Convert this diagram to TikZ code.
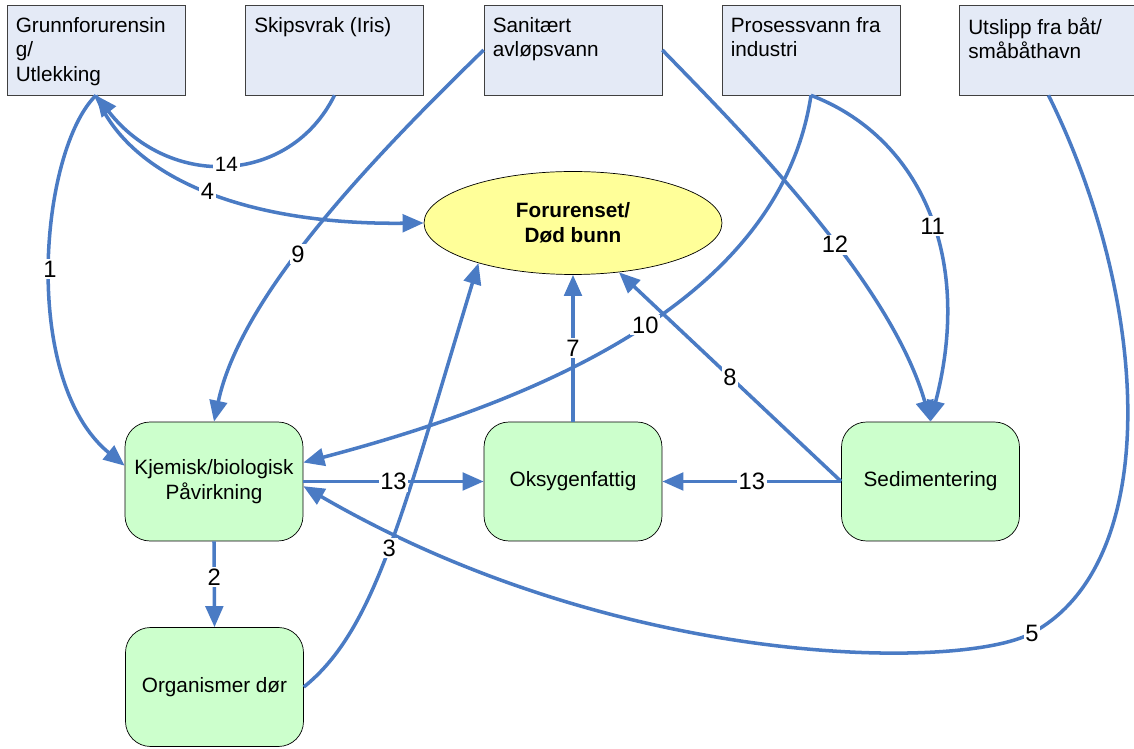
\documentclass[tikz,border=0pt]{standalone}
\usepackage{fontspec}
\setmainfont{Liberation Sans}
\usetikzlibrary{arrows.meta,shapes.geometric}

\definecolor{flowblue}{HTML}{4A7BC4}
\definecolor{srcfill}{HTML}{E4EAF6}
\definecolor{effectfill}{HTML}{CCFFCC}
\definecolor{deadfill}{HTML}{FFFF99}

\newcommand{\srctext}[1]{\parbox[t][1.3cm][t]{3.21cm}{\raggedright #1}}

\tikzset{
  srcbox/.style={draw=black!75, fill=srcfill, inner xsep=0.175cm, inner ysep=0.25cm,
    minimum width=3.56cm, minimum height=1.8cm, font=\fontsize{11.8}{13.9}\selectfont},
  effectbox/.style={draw=black, fill=effectfill, rounded corners=0.5cm, minimum width=3.56cm,
    minimum height=2.38cm, align=center, font=\fontsize{11.8}{14.2}\selectfont},
  deadzone/.style={ellipse, draw=black, fill=deadfill, minimum width=5.96cm, minimum height=2.06cm,
    align=center, font=\bfseries\fontsize{11.8}{14.2}\selectfont},
  flow/.style={draw=flowblue, line width=2pt, -{Triangle[length=12pt,width=10pt]}},
  num/.style={fill=white, inner sep=1pt, text=black, font=\fontsize{13.5}{15}\selectfont},
}

\begin{document}
\begin{tikzpicture}[x=0.02cm, y=-0.02cm]
  \useasboundingbox (0,0) rectangle (1134,749);

  % Kilder
  \node[srcbox] (grunn) at (96,50) {\srctext{Grunnforurensin\\g/\\Utlekking}};
  \node[srcbox] (skip) at (334.5,50) {\srctext{Skipsvrak (Iris)}};
  \node[srcbox] (sanit) at (573,50) {\srctext{Sanitært\\avløpsvann}};
  \node[srcbox] (proc) at (811,50) {\srctext{Prosessvann fra\\industri}};
  \node[srcbox] (utsl) at (1048.5,50) {\srctext{Utslipp fra båt/\\småbåthavn}};

  % Effekter
  \node[deadzone] (dead) at (573,223) {Forurenset/\\Død bunn};
  \node[effectbox] (kjem) at (214,481.5) {Kjemisk/biologisk\\Påvirkning};
  \node[effectbox] (oksy) at (573,481.5) {Oksygenfattig};
  \node[effectbox] (sedi) at (930.5,481.5) {Sedimentering};
  \node[effectbox] (dor) at (214.5,687) {Organismer dør};

  % Piler
  \draw[flow] (grunn.south) .. controls (40,150) and (20,380) .. (kjem.170) node[num,pos=.5] {1};
  \draw[flow] (skip.south) .. controls (290,185) and (170,190) .. (grunn.south)
    node[num,pos=.5,font=\fontsize{11.8}{13}\selectfont] {14};
  \draw[flow] (grunn.south) .. controls (130,180) and (250,225) .. (dead.west) node[num,pos=.5] {4};
  \draw[flow] (sanit.west) .. controls (360,170) and (240,300) .. (kjem.north) node[num,pos=.55] {9};
  \draw[flow] (sanit.east) .. controls (740,130) and (890,280) .. (sedi.north) node[num,pos=.58] {12};
  \draw[flow] (proc.south) .. controls (915,135) and (975,250) .. (sedi.north) node[num,pos=.55] {11};
  \draw[flow] (proc.south) .. controls (780,300) and (540,400) .. (kjem.12) node[num,pos=.48] {10};
  \draw[flow] (utsl.south) .. controls (1150,300) and (1164,562) .. (1032,633) node[num] {5}
    .. controls (962,671) and (620,670) .. (kjem.-3);
  \draw[flow] (dor.east) .. controls (375,630) and (402,515) .. (dead.203) node[num,pos=.5] {3};
  \draw[flow] (oksy.north) -- (dead.south) node[num,pos=.5] {7};
  \draw[flow] (sedi.west) -- (dead.-47) node[num,pos=.5] {8};
  \draw[flow] (kjem.east) -- (oksy.west) node[num,pos=.5] {13};
  \draw[flow] (sedi.west) -- (oksy.east) node[num,pos=.5] {13};
  \draw[flow] (kjem.south) -- (dor.north) node[num,pos=.42] {2};
\end{tikzpicture}
\end{document}
